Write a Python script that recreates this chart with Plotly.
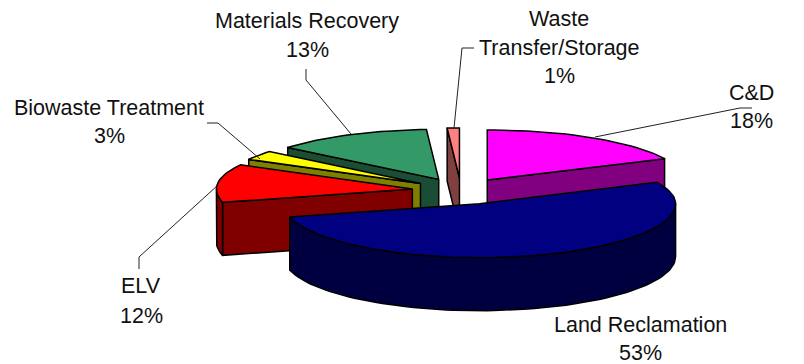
import math
import plotly.graph_objects as go

# Waste-facility shares, clockwise from twelve o'clock
categories = ["C&D", "Land Reclamation", "ELV", "Biowaste Treatment", "Materials Recovery", "Waste Transfer/Storage"]
shares = [18, 53, 12, 3, 13, 1]
top_colors = ["#FF00FF", "#000080", "#FF0000", "#FFFF00", "#339966", "#FF8080"]
side_colors = ["#800080", "#000040", "#800000", "#808000", "#1A4D33", "#804040"]
explode = [0.25, 0.28, 0.25, 0.25, 0.25, 0.25]

# Oblique view of the pie, in pixels of the plotting area
CX, CY = 461, 190.5
RX, RY_BACK, RY_FRONT = 196, 50, 54
DEPTH = 53
FONT = dict(family="Liberation Sans, Arial, sans-serif", size=21.5, color="#111111")


def rim(theta):
    """Offset of a rim point from the slice apex; theta runs clockwise from the top."""
    c = math.cos(theta)
    return RX * math.sin(theta), -(RY_BACK if c > 0 else RY_FRONT) * c


def arc(a, b, step=math.radians(2)):
    n = max(2, int(abs(b - a) / step) + 1)
    return [a + (b - a) * i / n for i in range(n + 1)]


def polygon(points, fill):
    xs, ys = zip(*points)
    return go.Scatter(
        x=list(xs) + [xs[0]], y=list(ys) + [ys[0]], mode="lines", fill="toself",
        fillcolor=fill, line=dict(color="black", width=1.5), hoverinfo="skip", showlegend=False,
    )


fig = go.Figure()

total = sum(shares)
slices = []
running = 0
for share, top, side, ex in zip(shares, top_colors, side_colors, explode):
    t0 = 2 * math.pi * running / total
    running += share
    t1 = 2 * math.pi * running / total
    mid = (t0 + t1) / 2
    ox, oy = RX * math.sin(mid) * ex, -RY_BACK * math.cos(mid) * ex
    slices.append((t0, t1, CX + ox, CY + oy, top, side))

# Painter's order: the rear slices first and the large front slice last
for idx in [5, 4, 3, 2, 0, 1]:
    t0, t1, ax, ay, top, side = slices[idx]

    def at(theta, drop=0.0):
        dx, dy = rim(theta)
        return ax + dx, ay + dy + drop

    apex, apex_low = (ax, ay), (ax, ay + DEPTH)
    if math.sin(t0) < -1e-6:
        fig.add_trace(polygon([apex, at(t0), at(t0, DEPTH), apex_low], side))
    if math.sin(t1) > 1e-6:
        fig.add_trace(polygon([apex, at(t1), at(t1, DEPTH), apex_low], side))
    lo, hi = max(t0, math.pi / 2), min(t1, 3 * math.pi / 2)
    if lo < hi:
        fig.add_trace(polygon(
            [at(t) for t in arc(lo, hi)] + [at(t, DEPTH) for t in arc(hi, lo)], side))
    fig.add_trace(polygon([apex] + [at(t) for t in arc(t0, t1)], top))

# Leader lines from the labels to their slices
leaders = [
    ([306, 306, 351], [69, 80, 134]),
    ([474, 462, 454], [48, 48, 128]),
    ([752, 740, 595], [108, 108, 137]),
    ([207, 218, 260], [123, 123, 159]),
    ([139, 139, 218], [269, 257, 185]),
]
for lx, ly in leaders:
    fig.add_trace(go.Scatter(x=lx, y=ly, mode="lines", line=dict(color="#222222", width=1),
                             hoverinfo="skip", showlegend=False))

# Label text, one entry per line
label_lines = [
    (307, 21, "Materials Recovery"), (307, 50, "13%"),
    (559, 19, "Waste"), (559, 48, "Transfer/Storage"), (559, 76, "1%"),
    (779 - 28, 92 + 1, "C&D"), (779 - 28, 121, "18%"),
    (109, 108, "Biowaste Treatment"), (109, 136, "3%"),
    (141, 286, "ELV"), (141, 316, "12%"),
    (640, 325, "Land Reclamation"), (640, 353, "53%"),
]
for x, y, text in label_lines:
    fig.add_annotation(x=x, y=y, text=text.replace("&", "&amp;"), showarrow=False, font=FONT,
                       xanchor="center", yanchor="middle")

fig.update_layout(
    width=804, height=364, margin=dict(l=0, r=0, t=0, b=0),
    paper_bgcolor="white", plot_bgcolor="white", showlegend=False,
    xaxis=dict(range=[0, 804], visible=False, fixedrange=True),
    yaxis=dict(range=[364, 0], visible=False, fixedrange=True),
)
fig.write_html("out.html", config=dict(displayModeBar=False))
